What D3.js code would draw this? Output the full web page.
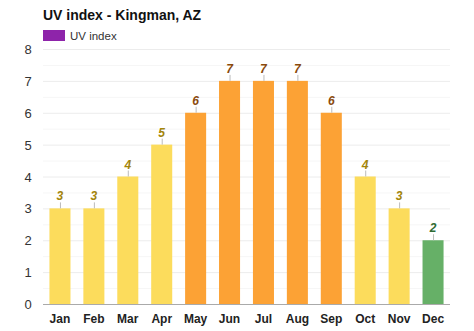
<!DOCTYPE html>
<html>
<head>
<meta charset="utf-8">
<script src="https://cdn.jsdelivr.net/npm/d3@7"></script>
<style>
  html, body { margin: 0; padding: 0; background: #fff; }
  svg { display: block; font-family: Arial, "Liberation Sans", Helvetica, sans-serif; }
</style>
</head>
<body>
<svg id="chart" width="474" height="331"></svg>
<script>
// Monthly UV index for Kingman, AZ
const months = ["Jan","Feb","Mar","Apr","May","Jun","Jul","Aug","Sep","Oct","Nov","Dec"];
const uvIndex = [3, 3, 4, 5, 6, 7, 7, 7, 6, 4, 3, 2];
const yTicks = [0, 1, 2, 3, 4, 5, 6, 7, 8];

// Fill and label colour by UV level
function barFill(v) {
  if (v <= 2) return "#66b067";
  if (v <= 5) return "#fcdc5c";
  return "#fca235";
}
function labelFill(v) {
  if (v <= 2) return "#2f6b33";
  if (v <= 5) return "#a3850b";
  return "#8a4a0c";
}

const svg = d3.select("#chart");
const margin = { left: 43, right: 24, top: 49, bottom: 27 };
const W = 474, H = 331;

const x = d3.scaleBand()
  .domain(months)
  .range([margin.left, W - margin.right])
  .paddingInner(0.38)
  .paddingOuter(0.19);

const y = d3.scaleLinear()
  .domain([0, 8])
  .range([H - margin.bottom, margin.top]);

// Faint half-step gridlines
svg.append("g")
  .selectAll("line")
  .data(d3.range(0.5, 8, 1))
  .join("line")
  .attr("x1", margin.left).attr("x2", W - margin.right)
  .attr("y1", d => y(d) + 0.5).attr("y2", d => y(d) + 0.5)
  .attr("stroke", "#f6f6f6").attr("stroke-width", 1);

// Integer gridlines
svg.append("g")
  .selectAll("line")
  .data(yTicks.slice(1))
  .join("line")
  .attr("x1", margin.left).attr("x2", W - margin.right)
  .attr("y1", d => y(d) + 0.5).attr("y2", d => y(d) + 0.5)
  .attr("stroke", "#ececec").attr("stroke-width", 1);

// Y axis labels
const yAxis = d3.axisLeft(y).tickValues(yTicks).tickSize(0).tickPadding(0).tickFormat(d3.format("d"));
svg.append("g")
  .attr("transform", `translate(${margin.left - 11},0)`)
  .call(yAxis)
  .call(g => g.select(".domain").remove())
  .call(g => g.selectAll("text")
    .attr("fill", "#333").attr("font-size", 13)
    .attr("text-anchor", "middle").attr("dx", -4).attr("dy", "0.35em"));

// Bars
svg.append("g")
  .selectAll("rect")
  .data(uvIndex)
  .join("rect")
  .attr("x", (d, i) => x(months[i]))
  .attr("width", x.bandwidth())
  .attr("y", d => y(d))
  .attr("height", d => y(0) - y(d))
  .attr("fill", d => barFill(d));

// Small connector ticks above bars
svg.append("g")
  .selectAll("line")
  .data(uvIndex)
  .join("line")
  .attr("x1", (d, i) => x(months[i]) + x.bandwidth() / 2 + 0.5)
  .attr("x2", (d, i) => x(months[i]) + x.bandwidth() / 2 + 0.5)
  .attr("y1", d => y(d) - 6)
  .attr("y2", d => y(d))
  .attr("stroke", "#bbb").attr("stroke-width", 1);

// Value labels
svg.append("g")
  .selectAll("text")
  .data(uvIndex)
  .join("text")
  .attr("x", (d, i) => x(months[i]) + x.bandwidth() / 2)
  .attr("y", d => y(d) - 8)
  .attr("text-anchor", "middle")
  .attr("font-size", 12)
  .attr("font-weight", "bold")
  .attr("font-style", "italic")
  .attr("fill", d => labelFill(d))
  .text(d => d);

// X axis baseline and labels
svg.append("line")
  .attr("x1", margin.left).attr("x2", W - margin.right)
  .attr("y1", y(0) + 0.5).attr("y2", y(0) + 0.5)
  .attr("stroke", "#aaa").attr("stroke-width", 1);

const xAxis = d3.axisBottom(x).tickSize(0).tickPadding(0);
svg.append("g")
  .attr("transform", `translate(0,${y(0)})`)
  .call(xAxis)
  .call(g => g.select(".domain").remove())
  .call(g => g.selectAll("text")
    .attr("fill", "#222").attr("font-size", 12).attr("font-weight", "bold")
    .attr("dy", "0").attr("y", 19));

// Title
svg.append("text")
  .attr("x", 43).attr("y", 20)
  .attr("font-size", 14).attr("font-weight", "bold").attr("fill", "#111")
  .text("UV index - Kingman, AZ");

// Legend
svg.append("rect")
  .attr("x", 43).attr("y", 30).attr("width", 22).attr("height", 11)
  .attr("fill", "#8e24aa");
svg.append("text")
  .attr("x", 70).attr("y", 40)
  .attr("font-size", 11.5).attr("fill", "#333")
  .text("UV index");
</script>
</body>
</html>
